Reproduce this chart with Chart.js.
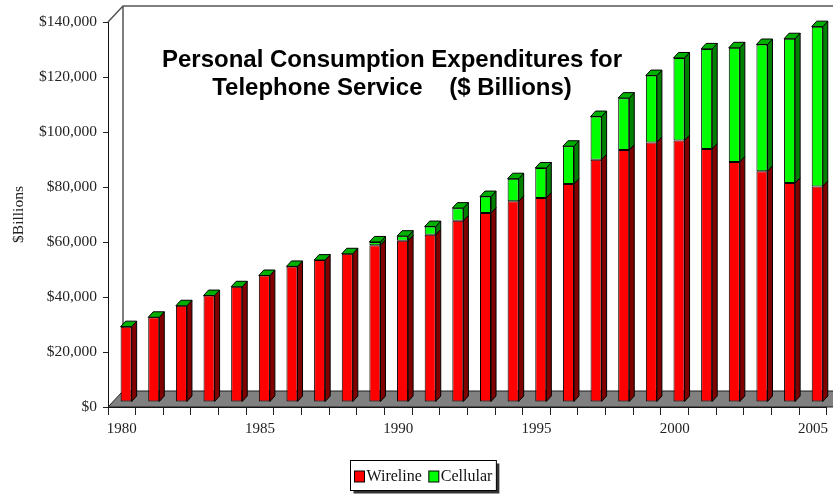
<!DOCTYPE html>
<html>
<head>
<meta charset="utf-8">
<script src="https://cdn.jsdelivr.net/npm/chart.js@4.4.1/dist/chart.umd.min.js"></script>
<style>
  html, body { margin: 0; padding: 0; background: #ffffff; }
  canvas { display: block; }
</style>
</head>
<body>
<canvas id="chart" width="833" height="495"></canvas>
<script>
// Personal consumption expenditures for telephone service, $ billions
const years = ['1980','1981','1982','1983','1984','1985','1986','1987','1988','1989',
               '1990','1991','1992','1993','1994','1995','1996','1997','1998','1999',
               '2000','2001','2002','2003','2004','2005'];
const wireline = [27400, 30800, 35000, 38700, 41900, 46000, 49300, 51600, 53900, 57000,
                  58600, 60800, 65900, 68700, 73000, 74200, 79300, 88100, 91600, 94400,
                  95100, 92000, 87300, 83900, 79600, 78400];
const cellular = [0, 0, 0, 0, 0, 0, 0, 0, 0, 1200,
                  1700, 3000, 4600, 6000, 8200, 10900, 13700, 15700, 18900, 24300,
                  30000, 36400, 41500, 46100, 52500, 58100];
const yMin = 0, yMax = 140000, yStep = 20000;
const titleLines = ['Personal Consumption Expenditures for', 'Telephone Service    ($ Billions)'];
const yTitle = '$Billions';

const SERIF = '"Liberation Serif", "Times New Roman", serif';
const SANS = '"Liberation Sans", Arial, sans-serif';

// oblique projection: bar fronts sit a third of the way into the floor
const FRONT = { x: 4.3, y: -5 };
const DEPTH = { x: 5, y: -5.5 };
const FLOOR = { x: 15, y: -16 };

const seriesStyle = [
  { front: '#ff0000', side: '#800000', top: '#c00000' },
  { front: '#00ff00', side: '#008000', top: '#00b000' }
];

function poly(ctx, pts, fill) {
  ctx.beginPath();
  ctx.moveTo(pts[0][0], pts[0][1]);
  for (let i = 1; i < pts.length; i++) ctx.lineTo(pts[i][0], pts[i][1]);
  ctx.closePath();
  ctx.fillStyle = fill;
  ctx.fill();
  ctx.stroke();
}

const scene3d = {
  id: 'scene3d',
  beforeDatasetsDraw(chart) {
    const { ctx, chartArea: a } = chart;
    const W = chart.width;
    ctx.save();
    ctx.lineWidth = 1;
    ctx.strokeStyle = '#1a1a1a';
    // floor
    poly(ctx, [[a.left, a.bottom], [W + 20, a.bottom], [W + 20, a.bottom + FLOOR.y],
               [a.left + FLOOR.x, a.bottom + FLOOR.y]], '#808080');
    // back and side wall edges
    ctx.strokeStyle = '#555555';
    ctx.lineWidth = 1.5;
    ctx.beginPath();
    ctx.moveTo(a.left, a.top);
    ctx.lineTo(a.left + FLOOR.x, a.top + FLOOR.y);
    ctx.lineTo(W + 20, a.top + FLOOR.y);
    ctx.moveTo(a.left + FLOOR.x, a.top + FLOOR.y);
    ctx.lineTo(a.left + FLOOR.x, a.bottom + FLOOR.y);
    ctx.stroke();
    ctx.restore();

    ctx.save();
    ctx.translate(FRONT.x, FRONT.y);
  },
  afterDatasetsDraw(chart) {
    const { ctx } = chart;
    ctx.lineWidth = 1;
    ctx.strokeStyle = '#000000';
    const n = chart.data.datasets.length;
    for (let d = 0; d < n; d++) {
      const meta = chart.getDatasetMeta(d);
      const st = seriesStyle[d];
      meta.data.forEach(bar => {
        const { x, y, base, width } = bar.getProps(['x', 'y', 'base', 'width'], true);
        const l = x - width / 2, r = x + width / 2;
        const t = Math.min(y, base), b = Math.max(y, base);
        if (b - t > 0.2) {
          poly(ctx, [[r, t], [r + DEPTH.x, t + DEPTH.y], [r + DEPTH.x, b + DEPTH.y], [r, b]], st.side);
        }
        if (d === n - 1) {
          poly(ctx, [[l, t], [l + DEPTH.x, t + DEPTH.y], [r + DEPTH.x, t + DEPTH.y], [r, t]], st.top);
        }
      });
    }
    ctx.restore();
  },
  afterDraw(chart) {
    const { ctx, chartArea: a } = chart;
    ctx.save();
    // chart title inside the plot
    ctx.fillStyle = '#000000';
    ctx.font = 'bold 24px ' + SANS;
    ctx.textAlign = 'center';
    ctx.textBaseline = 'alphabetic';
    const cx = a.left + 284;
    ctx.fillText(titleLines[0], cx, a.top + 44.7);
    ctx.fillText(titleLines[1], cx, a.top + 73);

    // legend with framed, shadowed box
    ctx.font = '16px ' + SERIF;
    ctx.textAlign = 'left';
    ctx.textBaseline = 'middle';
    const items = chart.data.datasets.map((ds, i) => ({ label: ds.label, color: seriesStyle[i].front }));
    const box = 10, boxH = 11, gapText = 2, gapItem = 7, padX = 4;
    let total = 0;
    items.forEach((it, i) => {
      it.w = ctx.measureText(it.label).width;
      total += box + gapText + it.w + (i < items.length - 1 ? gapItem : 0);
    });
    const frameW = total + padX * 2, frameH = 30;
    const fx = Math.round(a.left + 315 - frameW / 2) + 0.5, fy = 460.5;
    ctx.fillStyle = '#333333';
    ctx.fillRect(fx + 3, fy + 3, frameW, frameH);
    ctx.fillStyle = '#ffffff';
    ctx.fillRect(fx, fy, frameW, frameH);
    ctx.strokeStyle = '#000000';
    ctx.lineWidth = 1;
    ctx.strokeRect(fx, fy, frameW, frameH);
    let px = fx + padX;
    const cy = fy + frameH / 2 + 1;
    items.forEach(it => {
      ctx.fillStyle = it.color;
      ctx.fillRect(px, cy - boxH / 2, box, boxH);
      ctx.strokeRect(px, cy - boxH / 2, box, boxH);
      ctx.fillStyle = '#111111';
      ctx.fillText(it.label, px + box + gapText, cy);
      px += box + gapText + it.w + gapItem;
    });
    ctx.restore();
  }
};

new Chart(document.getElementById('chart'), {
  type: 'bar',
  data: {
    labels: years,
    datasets: [
      { label: 'Wireline', data: wireline, backgroundColor: seriesStyle[0].front,
        borderColor: '#000000', borderWidth: 1, borderSkipped: false, clip: false },
      { label: 'Cellular', data: cellular, backgroundColor: seriesStyle[1].front,
        borderColor: '#000000', borderWidth: 1, borderSkipped: false, clip: false }
    ]
  },
  options: {
    responsive: false,
    animation: false,
    devicePixelRatio: 1,
    layout: { padding: { top: 22, right: 3, left: 0, bottom: 0 } },
    datasets: { bar: { categoryPercentage: 1.0, barPercentage: 0.4 } },
    plugins: {
      legend: { display: false },
      title: { display: false },
      tooltip: { enabled: false }
    },
    scales: {
      x: {
        stacked: true,
        offset: true,
        grid: { offset: true, drawOnChartArea: false, drawTicks: true, tickLength: 8, color: '#222222' },
        border: { display: true, color: '#111111', width: 1 },
        ticks: {
          autoSkip: false, maxRotation: 0, minRotation: 0, padding: 5,
          color: '#222222', font: { family: SERIF, size: 15 },
          callback: (v, i) => (Number(years[i]) % 5 === 0 ? years[i] : '')
        },
        afterFit: s => { s.height = 88; }
      },
      y: {
        stacked: true,
        min: yMin, max: yMax,
        grid: { drawOnChartArea: false, drawTicks: true, tickLength: 5, color: '#222222' },
        border: { display: true, color: '#111111', width: 1 },
        ticks: {
          stepSize: yStep, padding: 6, color: '#222222',
          font: { family: SERIF, size: 15.5 },
          callback: v => '$' + Number(v).toLocaleString('en-US')
        },
        title: {
          display: true, text: yTitle, color: '#222222',
          font: { family: SERIF, size: 15.5 },
          padding: { top: 10, bottom: 0 }
        },
        afterFit: s => { s.width = 108; }
      }
    }
  },
  plugins: [scene3d]
});
</script>
</body>
</html>
